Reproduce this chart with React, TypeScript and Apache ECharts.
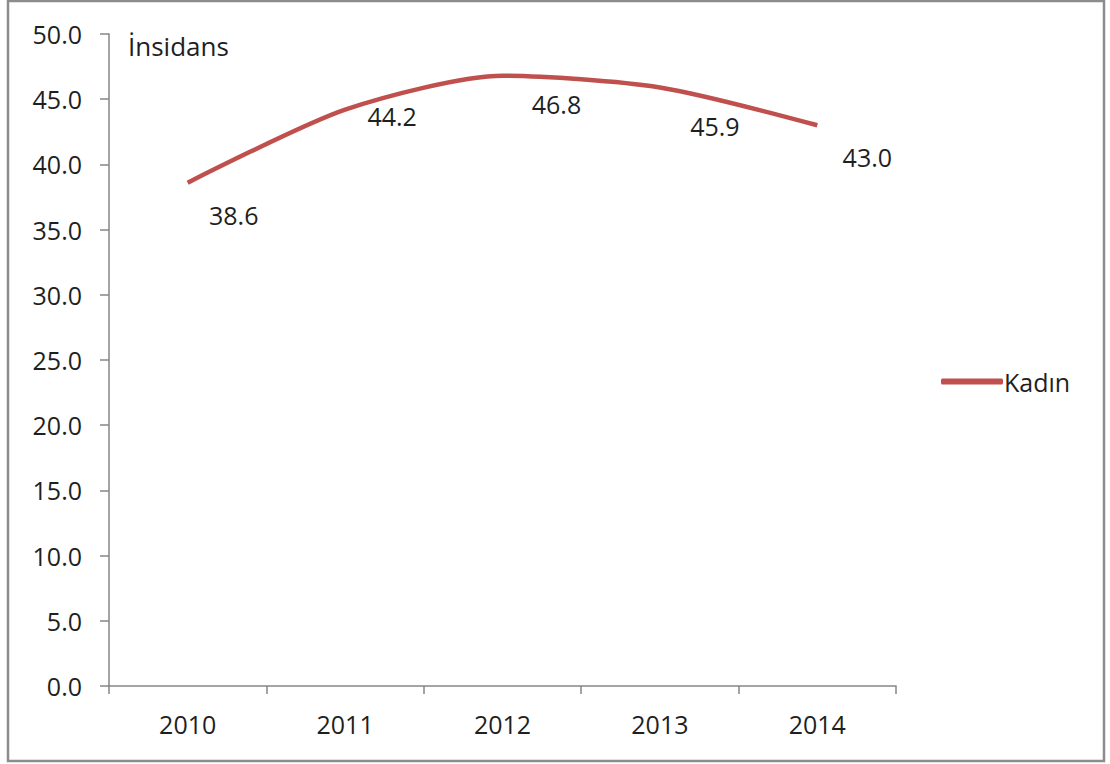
import React, { useEffect, useRef } from "react";
import * as echarts from "echarts";

const years = ["2010", "2011", "2012", "2013", "2014"];
const kadin = [38.6, 44.2, 46.8, 45.9, 43.0];
const seriesName = "Kadın";
const yTitle = "İnsidans";

const labelOffsets: number[][] = [
  [46, 15],
  [47, -11],
  [54, 11],
  [55, 21],
  [50, 14],
];

export default function App() {
  const ref = useRef<HTMLDivElement>(null);
  useEffect(() => {
    if (!ref.current) return;
    const chart = echarts.init(ref.current, null, { renderer: "svg" });
    const font = "'Open Sans', 'Noto Sans', sans-serif";
    const textColor = "#1f1f1f";
    const axisColor = "#868686";
    const fs = 25;
    chart.setOption({
      animation: false,
      backgroundColor: "#ffffff",
      textStyle: { fontFamily: font },
      title: {
        text: yTitle,
        left: 123,
        top: 28,
        textStyle: { fontSize: 26, fontWeight: "normal", color: textColor, fontFamily: font },
      },
      legend: {
        left: 936,
        top: 364,
        itemWidth: 62,
        itemHeight: 6,
        itemGap: 6,
        data: [{ name: seriesName, icon: "roundRect", itemStyle: { color: "#c0504d", opacity: 1 } }],
        textStyle: { fontSize: fs, color: textColor, fontFamily: font, padding: [0, 0, 0, -4] },
      },
      grid: { left: 109, right: 214, top: 34, bottom: 78, containLabel: false },
      xAxis: {
        type: "category",
        data: years,
        boundaryGap: true,
        axisLine: { lineStyle: { color: axisColor, width: 1.5 } },
        axisTick: { show: true, length: 8, alignWithLabel: false, lineStyle: { color: axisColor, width: 1.5 } },
        axisLabel: { fontSize: fs, color: textColor, margin: 25, fontFamily: font },
        splitLine: { show: false },
      },
      yAxis: {
        type: "value",
        min: 0,
        max: 50,
        interval: 5,
        axisLine: { show: true, lineStyle: { color: axisColor, width: 1.5 } },
        axisTick: { show: true, length: 9, lineStyle: { color: axisColor, width: 1.5 } },
        axisLabel: {
          fontSize: fs,
          color: textColor,
          margin: 27,
          fontFamily: font,
          formatter: (v: number) => v.toFixed(1),
        },
        splitLine: { show: false },
      },
      series: [
        {
          name: seriesName,
          type: "line",
          data: kadin.map((v, i) => ({
            value: v,
            label: { offset: labelOffsets[i] },
          })),
          smooth: 0.25,
          showSymbol: true,
          symbol: "circle",
          symbolSize: 0.01,
          lineStyle: { color: "#c0504d", width: 4.5 },
          itemStyle: { color: "#c0504d" },
          label: {
            show: true,
            position: "bottom",
            fontSize: fs,
            color: textColor,
            opacity: 1,
            fontFamily: font,
            formatter: (p: any) => Number(p.value).toFixed(1),
          },
        },
      ],
      graphic: [
        {
          type: "rect",
          shape: { x: 8, y: 1, width: 1096, height: 760 },
          style: { fill: "none", stroke: "#8c8c8c", lineWidth: 2.5 },
          silent: true,
        },
      ],
    });
    return () => chart.dispose();
  }, []);
  return (
    <div
      ref={ref}
      style={{ position: "fixed", left: 0, top: 0, width: 1110, height: 764, background: "#fff" }}
    />
  );
}
